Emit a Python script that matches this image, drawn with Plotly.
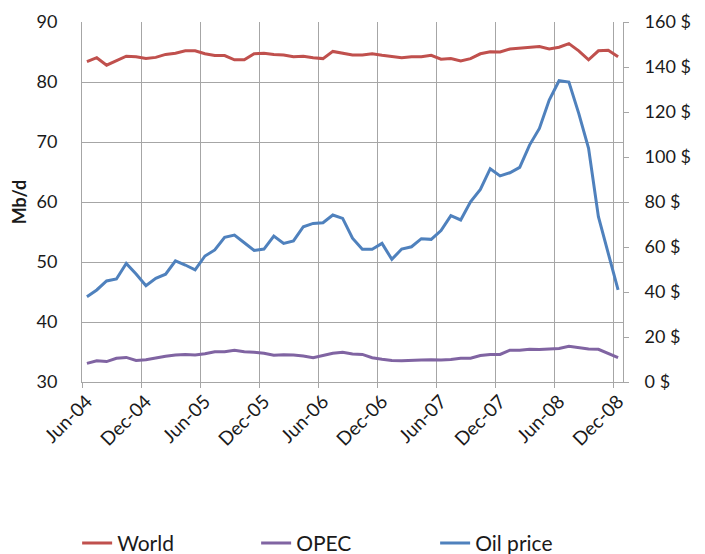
import plotly.graph_objects as go

months = []
for y in range(2004, 2009):
    for m in ["Jan", "Feb", "Mar", "Apr", "May", "Jun", "Jul", "Aug", "Sep", "Oct", "Nov", "Dec"]:
        months.append(f"{m}-{str(y)[2:]}")
months = months[5:]  # Jun-04 .. Dec-08

world = [83.4, 84.05, 82.8, 83.5, 84.3, 84.2, 83.9, 84.1, 84.6, 84.8,
         85.2, 85.2, 84.7, 84.4, 84.4, 83.7, 83.7, 84.7, 84.8, 84.6,
         84.5, 84.2, 84.3, 84.05, 83.9, 85.1, 84.8, 84.5, 84.5, 84.7,
         84.45, 84.2, 84.05, 84.2, 84.2, 84.45, 83.8, 83.9, 83.5, 83.9,
         84.7, 85.05, 85.0, 85.5, 85.67, 85.8, 85.9, 85.5, 85.8, 86.4,
         85.2, 83.7, 85.2, 85.3, 84.2]

opec = [33.1, 33.55, 33.4, 33.95, 34.1, 33.6, 33.7, 34.05, 34.3, 34.5,
        34.6, 34.5, 34.7, 35.05, 35.05, 35.3, 35.05, 34.95, 34.8, 34.45,
        34.55, 34.5, 34.35, 34.05, 34.4, 34.8, 34.95, 34.65, 34.6, 34.05,
        33.8, 33.6, 33.55, 33.55, 33.65, 33.7, 33.65, 33.75, 33.95, 33.95,
        34.4, 34.6, 34.6, 35.3, 35.3, 35.45, 35.4, 35.5, 35.6, 35.95,
        35.75, 35.5, 35.45, 34.8, 34.05]

oil_price = [37.9, 40.9, 44.9, 45.8, 52.7, 48.0, 42.8, 46.1, 47.9, 53.8,
             52.0, 49.8, 56.0, 58.7, 64.3, 65.3, 61.9, 58.5, 59.1, 64.9,
             61.6, 62.7, 69.0, 70.5, 70.8, 74.2, 72.7, 63.9, 59.0, 59.0,
             61.6, 54.5, 59.1, 60.1, 63.7, 63.4, 67.3, 73.9, 72.0, 80.1,
             85.6, 94.8, 91.6, 93.0, 95.4, 105.3, 112.7, 125.3, 133.9, 133.3,
             119.4, 103.9, 73.5, 57.2, 40.9]

left_ticks = [30, 40, 50, 60, 70, 80, 90]
right_ticks = [0, 20, 40, 60, 80, 100, 120, 140, 160]
right_labels = [f"{v} $" for v in right_ticks]

FONT = "Lato, Open Sans, sans-serif"
GRID = "#a6a6a6"

fig = go.Figure()
fig.add_trace(go.Scatter(x=months, y=world, name="World", mode="lines",
                         line=dict(color="#C0504D", width=3)))
fig.add_trace(go.Scatter(x=months, y=opec, name="OPEC", mode="lines",
                         line=dict(color="#8064A2", width=3)))
fig.add_trace(go.Scatter(x=months, y=oil_price, name="Oil price", mode="lines",
                         line=dict(color="#4F81BD", width=3), yaxis="y2"))

fig.update_layout(
    width=697, height=546,
    margin=dict(l=74, r=82, t=14, b=172, autoexpand=False),
    paper_bgcolor="white", plot_bgcolor="white",
    font=dict(family=FONT, size=18, color="#1a1a1a"),
    showlegend=True,
    legend=dict(orientation="h", x=-0.009, xanchor="left", y=-0.448, yanchor="middle",
                font=dict(size=21, color="#1a1a1a"), entrywidth=134, itemwidth=30,
                traceorder="normal"),
    xaxis=dict(type="category", range=[-0.5, 54.5], tickson="boundaries",
               tickmode="linear", tick0=0, dtick=6, tickangle=-45,
               showgrid=True, gridcolor=GRID, gridwidth=1,
               showline=True, linecolor=GRID, linewidth=1,
               ticks="outside", ticklen=5, tickcolor=GRID,
               tickfont=dict(size=19), zeroline=False, automargin=False),
    yaxis=dict(range=[30, 90], tickvals=left_ticks, showgrid=True, gridcolor=GRID,
               gridwidth=1, showline=True, linecolor=GRID, linewidth=1,
               ticks="", zeroline=False, ticklabelstandoff=20, automargin=False,
               title=dict(text="<b>Mb/d</b>", font=dict(size=18), standoff=8)),
    yaxis2=dict(range=[0, 160], tickvals=right_ticks, ticktext=right_labels,
                overlaying="y", side="right", showgrid=False,
                showline=True, linecolor=GRID, linewidth=1,
                ticks="outside", ticklen=5, tickcolor=GRID, zeroline=False,
                ticklabelstandoff=12, automargin=False),
)

fig.write_html("out.html")
